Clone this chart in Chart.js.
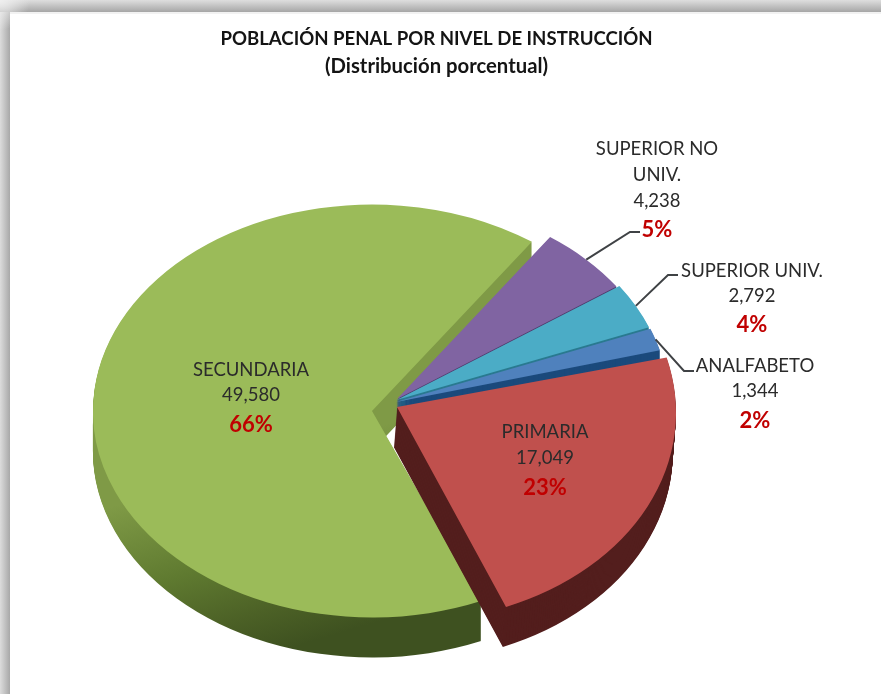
<!DOCTYPE html>
<html lang="es">
<head>
<meta charset="utf-8">
<title>Población penal por nivel de instrucción</title>
<style>
html,body{margin:0;padding:0;background:#fff;width:881px;height:694px;overflow:hidden}
#wrap{position:relative;width:881px;height:694px}
.band{position:absolute}
#top{left:0;top:0;width:881px;height:12px;background:linear-gradient(to bottom,#dedede,#a6a6a6)}
#left{left:0;top:12px;width:10px;height:682px;background:linear-gradient(to right,#dcdcdc,#a8a8a8)}
#corner{left:0;top:0;width:30px;height:30px;background:radial-gradient(circle 30px at 0 0,rgba(240,240,240,.95) 0,rgba(240,240,240,.6) 40%,rgba(240,240,240,0) 100%)}
#white{left:10px;top:12px;width:871px;height:682px;background:#fff}
#edge{left:10px;top:12px;width:871px;height:2px;background:#f2f2f2}
canvas{position:absolute;left:0;top:0;filter:blur(.6px)}
</style>
<script src="https://cdn.jsdelivr.net/npm/chart.js@4"></script>
</head>
<body>
<div id="wrap">
<div class="band" id="top"></div>
<div class="band" id="left"></div>
<div class="band" id="corner"></div>
<div class="band" id="white"></div>
<div class="band" id="edge"></div>
<canvas id="c" width="881" height="694"></canvas>
</div>
<script>
const categories = ['SECUNDARIA', 'SUPERIOR NO UNIV.', 'SUPERIOR UNIV.', 'ANALFABETO', 'PRIMARIA'];
const values = [49580, 4238, 2792, 1344, 17049];
const percents = ['66%', '5%', '4%', '2%', '23%'];
const titleText = 'POBLACIÓN PENAL POR NIVEL DE INSTRUCCIÓN';
const subtitleText = '(Distribución porcentual)';

const topColors = ['#9bbb59', '#8064a2', '#4bacc6', '#4f81bd', '#c0504d'];
/* Side-wall shading: position along the page direction (0.3x + y) and colour. */
const sideStops = [
  [[540, '#7f9a46'], [630, '#5f7a30'], [690, '#4c6126'], [735, '#3e5120']],
  [[0, '#4f3a6b'], [1, '#4f3a6b']],
  [[0, '#2a7a90'], [1, '#2a7a90']],
  [[0, '#1b4a7c'], [1, '#1b4a7c']],
  [[0, '#531e1d'], [1, '#531e1d']]
];
/* Where each exploded slice sits on the page. */
const sliceLayout = [
  {x: 372, y: 411, r: 279, tilt: 0.74, shear: 0, lean: 0},
  {x: 397, y: 399, r: 267, tilt: 0.74, shear: 0, lean: 0},
  {x: 396.5, y: 400, r: 271, tilt: 0.74, shear: 0, lean: 0},
  {x: 396, y: 402, r: 273, tilt: 0.74, shear: 0, lean: 0},
  {x: 397, y: 407, r: 279, tilt: 0.77, shear: 0.02, lean: -0.08}
];
const depth = 40;

const labelLayout = [
  {x: 251, lines: [370.5, 395.5], pct: 424.5},
  {x: 657, lines: [149.5, 175.5, 201.5], pct: 229.5, split: ['SUPERIOR NO', 'UNIV.'], elbow: [630, 232], end: 640},
  {x: 752, lines: [271.5, 296.5], pct: 324.5, elbow: [668, 275], end: 678},
  {x: 755, lines: [366.5, 391.5], pct: 420.5, elbow: [684, 371], end: 694},
  {x: 545, lines: [432.5, 458.5], pct: 487.5}
];

function place(ctx, arc, i, d) {
  const s = sliceLayout[i];
  const k = s.r / arc.outerRadius;
  ctx.translate(s.x + s.lean * d, s.y + d);
  ctx.transform(1, s.shear, 0, 1, 0, 0);
  ctx.scale(k, k * s.tilt);
  ctx.translate(-arc.x, -arc.y);
  return k;
}

function sideFill(ctx, arc, i, d, k) {
  const s = sliceLayout[i];
  const stops = sideStops[i];
  const p0 = stops[0][0], p1 = stops[stops.length - 1][0];
  if (p1 <= 1) return stops[0][1];
  const wx = 0.3 * k, wy = k * s.tilt;
  const lam = (p1 - p0) / (wx * wx + wy * wy);
  const ax = arc.x + (0 - s.x) / k;
  const ay = arc.y + (p0 - s.y - d) / (k * s.tilt);
  const g = ctx.createLinearGradient(ax, ay, ax + wx * lam, ay + wy * lam);
  stops.forEach(p => g.addColorStop((p[0] - p0) / (p1 - p0), p[1]));
  return g;
}

const pie3d = {
  id: 'pie3d',
  beforeDatasetsDraw(chart) {
    const ctx = chart.ctx;
    const arcs = chart.getDatasetMeta(0).data;
    arcs.forEach((arc, i) => {
      for (let d = depth; d >= 0; d--) {
        ctx.save();
        const k = place(ctx, arc, i, d);
        const clone = Object.create(arc);
        const opts = Object.create(arc.options);
        if (d > 0) opts.backgroundColor = sideFill(ctx, arc, i, d, k);
        clone.options = opts;
        clone.draw(ctx);
        ctx.restore();
      }
    });
    return false;
  },
  afterDraw(chart) {
    const ctx = chart.ctx;
    const arcs = chart.getDatasetMeta(0).data;
    ctx.save();
    ctx.textAlign = 'center';
    ctx.textBaseline = 'middle';
    arcs.forEach((arc, i) => {
      const l = labelLayout[i];
      const s = sliceLayout[i];
      if (l.elbow) {
        const mid = (arc.startAngle + arc.endAngle) / 2;
        ctx.beginPath();
        ctx.moveTo(s.x + s.r * Math.cos(mid), s.y + s.r * s.tilt * Math.sin(mid));
        ctx.lineTo(l.elbow[0], l.elbow[1]);
        ctx.lineTo(l.end, l.elbow[1]);
        ctx.strokeStyle = '#3f4245';
        ctx.lineWidth = 2;
        ctx.stroke();
      }
      const texts = (l.split || [categories[i]]).concat(values[i].toLocaleString('en-US'));
      ctx.font = '18.5px Lato';
      ctx.fillStyle = '#2b2b2b';
      texts.forEach((t, n) => ctx.fillText(t, l.x, l.lines[n]));
      ctx.font = 'bold 22px Lato';
      ctx.fillStyle = '#c00000';
      ctx.fillText(percents[i], l.x, l.pct);
    });
    ctx.restore();
  }
};

new Chart(document.getElementById('c'), {
  type: 'pie',
  data: {
    labels: categories,
    datasets: [{data: values, backgroundColor: topColors, borderWidth: 0, rotation: 157}]
  },
  options: {
    responsive: false,
    animation: false,
    layout: {padding: {right: 8, top: 26}},
    plugins: {
      legend: {display: false},
      tooltip: {enabled: false},
      title: {
        display: true,
        text: titleText,
        color: '#141414',
        font: {family: 'Lato', weight: 'bold', size: 18.6, lineHeight: 1.45},
        padding: 0
      },
      subtitle: {
        display: true,
        text: subtitleText,
        color: '#141414',
        font: {family: 'Lato', weight: 'bold', size: 20.3, lineHeight: 1.35},
        padding: 0
      }
    }
  },
  plugins: [pie3d]
});
</script>
</body>
</html>
